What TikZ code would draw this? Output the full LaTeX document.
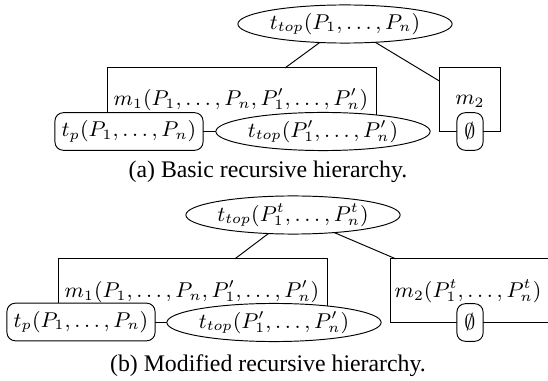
\documentclass[tikz,border=0pt]{standalone}
\usepackage{fontspec}
\setmainfont{Liberation Serif}
\usetikzlibrary{shapes.geometric}
\begin{document}
\begin{tikzpicture}[x=0.42pt,y=-0.42pt,
  every node/.style={inner sep=0pt, outer sep=0pt, font=\fontsize{9.2}{11}\selectfont},
  ell/.style={ellipse, draw, fill=white, minimum width=90pt, minimum height=16pt},
  rbox/.style={rectangle, rounded corners=3.5pt, draw, fill=white, minimum height=15.8pt},
  mbox/.style={rectangle, draw, minimum height=26.5pt},
  lbl/.style={anchor=base},
  caption/.style={font=\fontsize{10}{12}\selectfont}
]
\clip (0,0) rectangle (548,381);
% ---------- (a) ----------
\node[mbox, minimum width=112.6pt] (m1a) at (242,99.5) {};
\node[lbl] (m1at) at (241,106) {$m_1(P_1,\ldots,P_n,P'_1,\ldots,P'_n)$};
\node[mbox, minimum width=26pt] (m2a) at (470,99.5) {};
\node[lbl] (m2at) at (470,105) {$m_2$};
\node[rbox, minimum width=62.2pt] (tpa) at (129,131.5) {$t_p(P_1,\ldots,P_n)$};
\node[ell] (tta) at (323,131.5) {$t_{top}(P'_1,\ldots,P'_n)$};
\node[rbox, minimum width=11pt] (ea) at (470,131.5) {$\emptyset$};
\node[ell] (topa) at (345,24) {$t_{top}(P_1,\ldots,P_n)$};
\draw (topa) -- (m1a);
\draw (topa) -- (m2a);
\node[caption] (capa) at (268,172) {(a) Basic recursive hierarchy.};
% ---------- (b) ----------
\node[mbox, minimum width=112.6pt] (m1b) at (193,290.5) {};
\node[lbl] (m1bt) at (192,298) {$m_1(P_1,\ldots,P_n,P'_1,\ldots,P'_n)$};
\node[mbox, minimum width=67.2pt] (m2b) at (470,290.5) {};
\node[lbl] (m2bt) at (468,298) {$m_2(P^t_1,\ldots,P^t_n)$};
\node[rbox, minimum width=62.2pt] (tpb) at (81,322) {$t_p(P_1,\ldots,P_n)$};
\node[ell] (ttb) at (274,322.5) {$t_{top}(P'_1,\ldots,P'_n)$};
\node[rbox, minimum width=11pt] (eb) at (470,322.5) {$\emptyset$};
\node[ell] (topb) at (293,215) {$t_{top}(P^t_1,\ldots,P^t_n)$};
\draw (topb) -- (m1b);
\draw (topb) -- (m2b);
\node[caption] (capb) at (268,366) {(b) Modified recursive hierarchy.};
\end{tikzpicture}
\end{document}
